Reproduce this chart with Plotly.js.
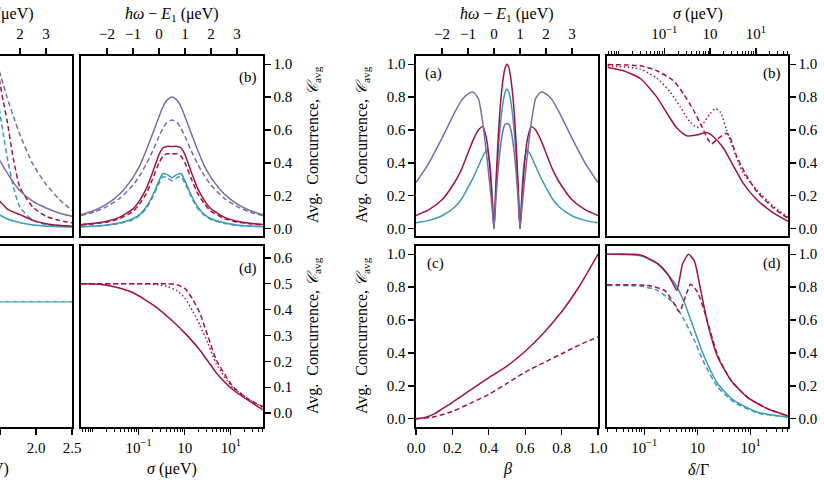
<!DOCTYPE html>
<html><head><meta charset="utf-8">
<script src="https://cdn.plot.ly/plotly-3.0.1.min.js"></script>
<style>html,body{margin:0;padding:0;background:#fff}#plot{width:824px;height:482px}</style>
</head><body><div id="plot"></div>
<script>
// ---------------- DATA ----------------
// Left figure, top-left (cut) panel: x = hbar*omega - E1 (ueV)
const p1X = [1.2, 1.35, 1.5, 1.75, 2.0, 2.5, 3.0, 3.5, 4.0];
const p1PurpleSolid = [0.42, 0.38, 0.34, 0.28, 0.23, 0.165, 0.125, 0.095, 0.075];
const p1PurpleDash  = [0.96, 0.88, 0.80, 0.68, 0.57, 0.39, 0.27, 0.18, 0.11];
const p1RedSolid    = [0.17, 0.145, 0.12, 0.10, 0.085, 0.05, 0.03, 0.02, 0.015];
const p1RedDash     = [0.91, 0.78, 0.66, 0.42, 0.25, 0.13, 0.075, 0.05, 0.035];
const p1BlueSolid   = [0.085, 0.072, 0.06, 0.046, 0.036, 0.022, 0.015, 0.012, 0.01];
const p1BlueDash    = [0.73, 0.58, 0.44, 0.25, 0.13, 0.05, 0.025, 0.015, 0.01];

// Left figure (b): x = hbar*omega - E1 (ueV)
const lbX = [-3, -2.5, -2, -1.5, -1, -0.75, -0.5, -0.25, 0, 0.15, 0.3, 0.5, 0.7, 0.85, 1, 1.25, 1.5, 1.75, 2, 2.5, 3, 3.5, 4];
const lbPurpleSolid = [0.084, 0.110, 0.150, 0.212, 0.312, 0.38, 0.472, 0.575, 0.681, 0.74, 0.78, 0.80, 0.78, 0.74, 0.681, 0.575, 0.472, 0.38, 0.312, 0.212, 0.150, 0.110, 0.084];
const lbPurpleDash  = [0.08, 0.10, 0.135, 0.185, 0.265, 0.32, 0.39, 0.47, 0.56, 0.61, 0.645, 0.66, 0.645, 0.61, 0.56, 0.47, 0.39, 0.32, 0.265, 0.185, 0.135, 0.10, 0.08];
const lbRedSolid    = [0.025, 0.032, 0.045, 0.07, 0.12, 0.17, 0.24, 0.34, 0.45, 0.49, 0.50, 0.50, 0.50, 0.49, 0.45, 0.34, 0.24, 0.17, 0.12, 0.07, 0.045, 0.032, 0.025];
const lbRedDash     = [0.022, 0.03, 0.04, 0.062, 0.105, 0.15, 0.21, 0.30, 0.40, 0.44, 0.455, 0.455, 0.455, 0.44, 0.40, 0.30, 0.21, 0.15, 0.105, 0.062, 0.04, 0.03, 0.022];
const lbBlueSolid   = [0.012, 0.016, 0.022, 0.035, 0.06, 0.085, 0.13, 0.20, 0.29, 0.335, 0.33, 0.31, 0.33, 0.335, 0.29, 0.20, 0.13, 0.085, 0.06, 0.035, 0.022, 0.016, 0.012];
const lbBlueDash    = [0.011, 0.015, 0.02, 0.032, 0.055, 0.08, 0.12, 0.19, 0.275, 0.315, 0.31, 0.29, 0.31, 0.315, 0.275, 0.19, 0.12, 0.08, 0.055, 0.032, 0.02, 0.015, 0.011];

// Left figure, bottom-left (cut) panel
const p3X = [1.4, 2.6];
const p3Blue = [0.43, 0.43];

// Left figure (d): sigma (ueV), log
const ldSolidX = [0.0056, 0.014, 0.03, 0.076, 0.24, 0.56, 1.0, 2.13, 4.9, 11.2, 50];
const ldSolidY = [0.50, 0.498, 0.488, 0.465, 0.41, 0.354, 0.31, 0.244, 0.155, 0.09, 0.012];
const ldDashX  = [0.0056, 0.1, 0.4, 0.66, 1.0, 1.51, 2.13, 3.2, 4.9, 11.2, 25.9, 50];
const ldDashY  = [0.50, 0.50, 0.50, 0.497, 0.483, 0.438, 0.387, 0.296, 0.205, 0.102, 0.05, 0.025];
const ldDotX   = [0.0056, 0.1, 0.24, 0.40, 0.66, 1.0, 1.51, 2.13, 3.2, 4.9, 11.2, 50];
const ldDotY   = [0.50, 0.50, 0.497, 0.49, 0.475, 0.445, 0.393, 0.34, 0.27, 0.19, 0.097, 0.02];

// Right figure (a): x = hbar*omega - E1 (ueV)
const aX = [-3, -2.5, -2, -1.5, -1.25, -1, -0.8, -0.6, -0.43, -0.27, -0.15, -0.07, 0, 0.07, 0.15, 0.25, 0.35, 0.43, 0.5,
            0.57, 0.65, 0.75, 0.85, 0.93, 1, 1.07, 1.15, 1.27, 1.43, 1.6, 1.8, 2, 2.25, 2.5, 3, 3.5, 4];
const aPurple = [0.28, 0.40, 0.55, 0.71, 0.78, 0.82, 0.83, 0.79, 0.64, 0.43, 0.25, 0.12, 0, 0.17, 0.34, 0.50, 0.60, 0.635, 0.64,
                 0.635, 0.60, 0.50, 0.34, 0.17, 0, 0.12, 0.25, 0.43, 0.64, 0.79, 0.83, 0.82, 0.78, 0.71, 0.55, 0.40, 0.28];
const aRed    = [0.08, 0.115, 0.175, 0.285, 0.36, 0.46, 0.54, 0.60, 0.62, 0.53, 0.35, 0.17, 0, 0.26, 0.52, 0.76, 0.91, 0.98, 1.0,
                 0.98, 0.91, 0.76, 0.52, 0.26, 0, 0.17, 0.35, 0.53, 0.62, 0.60, 0.54, 0.46, 0.36, 0.285, 0.175, 0.115, 0.08];
const aBlue   = [0.035, 0.05, 0.078, 0.133, 0.18, 0.25, 0.31, 0.38, 0.44, 0.48, 0.39, 0.21, 0, 0.22, 0.44, 0.64, 0.77, 0.83, 0.85,
                 0.83, 0.77, 0.64, 0.44, 0.22, 0, 0.21, 0.39, 0.48, 0.44, 0.38, 0.31, 0.25, 0.18, 0.133, 0.078, 0.05, 0.035];

// Right figure (b): sigma (ueV), log
const bSolidX = [0.0058, 0.0129, 0.030, 0.069, 0.115, 0.19, 0.31, 0.513, 0.85, 1.17, 1.95, 3.24, 5.25, 10.5, 24, 50];
const bSolidY = [0.98, 0.96, 0.913, 0.80, 0.70, 0.61, 0.564, 0.57, 0.585, 0.56, 0.49, 0.38, 0.277, 0.176, 0.095, 0.044];
const bDashX  = [0.0058, 0.030, 0.069, 0.158, 0.263, 0.436, 0.66, 0.91, 1.07, 1.38, 2.29, 2.69, 3.8, 6.3, 10.5, 24, 50];
const bDashY  = [0.998, 0.99, 0.96, 0.90, 0.82, 0.72, 0.62, 0.54, 0.515, 0.54, 0.58, 0.56, 0.44, 0.32, 0.225, 0.125, 0.063];
const bDotX   = [0.0058, 0.030, 0.069, 0.135, 0.224, 0.363, 0.513, 0.708, 1.0, 1.29, 1.66, 2.29, 3.24, 5.25, 10.5, 24, 50];
const bDotY   = [0.99, 0.97, 0.915, 0.83, 0.74, 0.65, 0.615, 0.64, 0.70, 0.73, 0.71, 0.60, 0.48, 0.34, 0.235, 0.135, 0.07];

// Right figure (c): beta
const cSolidX = [0, 0.05, 0.1, 0.15, 0.2, 0.3, 0.4, 0.5, 0.6, 0.7, 0.8, 0.9, 1.0];
const cSolidY = [0, 0.008, 0.03, 0.065, 0.10, 0.175, 0.25, 0.32, 0.41, 0.52, 0.65, 0.81, 1.0];
const cDashX  = [0, 0.1, 0.2, 0.3, 0.4, 0.5, 0.6, 0.7, 0.8, 0.9, 1.0];
const cDashY  = [0, 0.012, 0.045, 0.095, 0.148, 0.215, 0.284, 0.34, 0.395, 0.45, 0.497];

// Right figure (d): delta / Gamma, log
const dRedSolidX = [0.02, 0.085, 0.178, 0.275, 0.363, 0.41, 0.525, 0.676, 0.871, 1.15, 1.55, 2.4, 4.27, 8.7, 20.9, 52];
const dRedSolidY = [1.0, 0.995, 0.944, 0.88, 0.81, 0.78, 0.94, 1.0, 0.96, 0.78, 0.58, 0.375, 0.233, 0.13, 0.06, 0.016];
const dRedDashX  = [0.02, 0.115, 0.24, 0.363, 0.457, 0.603, 0.741, 1.0, 1.45, 2.4, 4.27, 8.7, 20.9, 52];
const dRedDashY  = [0.815, 0.81, 0.78, 0.70, 0.65, 0.75, 0.817, 0.77, 0.62, 0.385, 0.233, 0.13, 0.06, 0.016];
const dBlueX      = [0.02, 0.085, 0.178, 0.363, 0.562, 0.871, 1.35, 2.4, 4.9, 13.5, 52];
const dBlueSolidY = [1.0, 0.99, 0.94, 0.83, 0.71, 0.54, 0.375, 0.213, 0.11, 0.04, 0.01];
const dBlueDashY  = [0.81, 0.805, 0.78, 0.70, 0.60, 0.477, 0.335, 0.193, 0.10, 0.035, 0.01];

const hwTickVals = [-2, -1, 0, 1, 2, 3];
const logTickVals = [0.1, 1, 10];
const logTickText = ['10<sup>−1</sup>', '10', '10<sup>1</sup>'];

// ---------------- STYLE / LAYOUT ----------------
const W = 824, H = 482;
const RED = '#a3123f', PURPLE = '#7a6aa8', BLUE = '#3d97bf';
const DASH = '5px,3px', DOT = '1.5px,2.5px';
const FONT = {family: 'Liberation Serif, Times New Roman, serif', size: 15, color: '#000'};
const TFONT = {family: 'Liberation Serif, Times New Roman, serif', size: 16, color: '#000'};
const dx = (a, b) => [a / W, b / W];
const dy = (t, b) => [1 - b / H, 1 - t / H];

function tr(x, y, n, color, dash) {
  return {x: x, y: y, xaxis: 'x' + (n === 1 ? '' : n), yaxis: 'y' + (n === 1 ? '' : n),
    type: 'scatter', mode: 'lines', hoverinfo: 'skip', showlegend: false,
    line: {color: color, width: 1.5, dash: dash || 'solid', shape: 'spline', smoothing: 0.6}};
}

const minorVals = [];
for (let e = -3; e <= 2; e++) for (let m = 2; m <= 9; m++) minorVals.push(m * Math.pow(10, e));
minorVals.push(0.01, 100);

function ax(o) {
  return Object.assign({showline: true, mirror: true, linecolor: '#000', linewidth: 1.6,
    ticks: 'outside', ticklen: 6, tickwidth: 1.3, tickcolor: '#000', showgrid: false,
    zeroline: false, tickfont: FONT, fixedrange: true}, o);
}
function logAx(o) {
  return ax(Object.assign({type: 'log', range: [-2.25, 1.70], tickmode: 'array',
    tickvals: logTickVals, ticktext: logTickText,
    minor: {ticks: 'outside', ticklen: 3, tickwidth: 1, tickcolor: '#000', tickmode: 'array', tickvals: minorVals, showgrid: false}}, o));
}

const TOP = [56, 236], BOT = [246, 427];
const ySmall = [-0.045, 1.05];
const yTicks = {tickmode: 'array', tickvals: [0, 0.2, 0.4, 0.6, 0.8, 1.0], tickformat: '.1f'};

const layout = {
  width: W, height: H, margin: {l: 0, r: 0, t: 0, b: 0},
  paper_bgcolor: '#fff', plot_bgcolor: '#fff', font: FONT, showlegend: false,
  xaxis:  ax({domain: dx(0, 72), range: [1.23, 4], side: 'top', anchor: 'y', tickmode: 'array', tickvals: hwTickVals, ticklabelstandoff: 3}),
  yaxis:  ax({domain: dy(TOP[0], TOP[1]), range: ySmall, anchor: 'x', showticklabels: false, ticks: ''}),
  xaxis2: ax({domain: dx(81, 263), range: [-3, 4], side: 'top', anchor: 'y2', tickmode: 'array', tickvals: hwTickVals, ticklabelstandoff: 3}),
  yaxis2: ax(Object.assign({domain: dy(TOP[0], TOP[1]), range: ySmall, side: 'right', anchor: 'x2'}, yTicks)),
  xaxis3: ax({domain: dx(0, 72), range: [1.5, 2.5], side: 'bottom', anchor: 'y3', tickmode: 'array', tickvals: [1.5, 2.0, 2.5], tickformat: '.1f'}),
  yaxis3: ax({domain: dy(BOT[0], BOT[1]), range: [-0.054, 0.646], anchor: 'x3', showticklabels: false, ticks: ''}),
  xaxis4: logAx({domain: dx(81, 263), side: 'bottom', anchor: 'y4'}),
  yaxis4: ax({domain: dy(BOT[0], BOT[1]), range: [-0.054, 0.646], side: 'right', anchor: 'x4', tickmode: 'array', tickvals: [0, 0.1, 0.2, 0.3, 0.4, 0.5, 0.6], tickformat: '.1f'}),
  xaxis5: ax({domain: dx(416, 598), range: [-3, 4], side: 'top', anchor: 'y5', tickmode: 'array', tickvals: hwTickVals, ticklabelstandoff: 3}),
  yaxis5: ax(Object.assign({domain: dy(TOP[0], TOP[1]), range: ySmall, side: 'left', anchor: 'x5'}, yTicks)),
  xaxis6: logAx({domain: dx(607, 788), side: 'top', anchor: 'y6', ticklabelstandoff: 3}),
  yaxis6: ax(Object.assign({domain: dy(TOP[0], TOP[1]), range: ySmall, side: 'right', anchor: 'x6'}, yTicks)),
  xaxis7: ax({domain: dx(416, 598), range: [0, 1], side: 'bottom', anchor: 'y7', tickmode: 'array', tickvals: [0, 0.2, 0.4, 0.6, 0.8, 1.0], tickformat: '.1f'}),
  yaxis7: ax(Object.assign({domain: dy(BOT[0], BOT[1]), range: [-0.05, 1.05], side: 'left', anchor: 'x7'}, yTicks)),
  xaxis8: logAx({domain: dx(607, 788), range: [-1.7, 1.7], side: 'bottom', anchor: 'y8'}),
  yaxis8: ax(Object.assign({domain: dy(BOT[0], BOT[1]), range: [-0.05, 1.05], side: 'right', anchor: 'x8'}, yTicks)),
  shapes: [
    {type: 'line', xref: 'x4', yref: 'y4 domain', x0: 0, x1: 0, y0: 0, y1: 1, line: {color: '#8a8a8a', width: 1.3}, layer: 'below'},
    {type: 'line', xref: 'x6', yref: 'y6 domain', x0: 0, x1: 0, y0: 0, y1: 1, line: {color: '#8a8a8a', width: 1.3}, layer: 'below'}
  ],
  annotations: []
};

function ann(text, x, y, opts) {
  layout.annotations.push(Object.assign({text: text, x: x / W, y: 1 - y / H, xref: 'paper', yref: 'paper',
    showarrow: false, font: TFONT, xanchor: 'center', yanchor: 'middle'}, opts || {}));
}
const HW = '<i>ħω</i> − <i>E</i><sub>1</sub> (μeV)';
const SIG = '<i>σ</i> (μeV)';
const CAVG = 'Avg.  Concurrence, <i>𝒞</i><sub>avg</sub>';
ann(HW, 36, 14, {xanchor: 'right'});
ann(HW, 172, 14);
ann(HW, 507, 14);
ann(SIG, 698, 14);
ann(SIG, 172, 469);
ann('(μeV)', 11, 469, {xanchor: 'right'});
ann('<i>β</i>', 507, 469);
ann('<i>δ</i>/Γ', 698, 469);
ann(CAVG, 313, 145, {textangle: -90});
ann(CAVG, 313, 336, {textangle: -90});
ann(CAVG, 362, 145, {textangle: -90});
ann(CAVG, 362, 336, {textangle: -90});
ann('(b)', 248, 77, {font: FONT});
ann('(d)', 248, 268, {font: FONT});
ann('(a)', 433, 73, {font: FONT});
ann('(b)', 772, 73, {font: FONT});
ann('(c)', 435, 263, {font: FONT});
ann('(d)', 772, 263, {font: FONT});

const data = [
  tr(p1X, p1BlueSolid, 1, BLUE), tr(p1X, p1BlueDash, 1, BLUE, DASH),
  tr(p1X, p1RedSolid, 1, RED), tr(p1X, p1RedDash, 1, RED, DASH),
  tr(p1X, p1PurpleSolid, 1, PURPLE), tr(p1X, p1PurpleDash, 1, PURPLE, DASH),
  tr(lbX, lbBlueSolid, 2, BLUE), tr(lbX, lbBlueDash, 2, BLUE, DASH),
  tr(lbX, lbRedSolid, 2, RED), tr(lbX, lbRedDash, 2, RED, DASH),
  tr(lbX, lbPurpleSolid, 2, PURPLE), tr(lbX, lbPurpleDash, 2, PURPLE, DASH),
  tr(p3X, p3Blue, 3, BLUE), tr(p3X, p3Blue, 3, '#8fc3dc', DASH),
  tr(ldSolidX, ldSolidY, 4, RED), tr(ldDashX, ldDashY, 4, RED, DASH), tr(ldDotX, ldDotY, 4, RED, DOT),
  tr(aX, aBlue, 5, BLUE), tr(aX, aRed, 5, RED), tr(aX, aPurple, 5, PURPLE),
  tr(bSolidX, bSolidY, 6, RED), tr(bDashX, bDashY, 6, RED, DASH), tr(bDotX, bDotY, 6, RED, DOT),
  tr(cSolidX, cSolidY, 7, RED), tr(cDashX, cDashY, 7, RED, DASH),
  tr(dBlueX, dBlueSolidY, 8, BLUE), tr(dBlueX, dBlueDashY, 8, BLUE, DASH),
  tr(dRedSolidX, dRedSolidY, 8, RED), tr(dRedDashX, dRedDashY, 8, RED, DASH)
];

Plotly.newPlot('plot', data, layout, {staticPlot: true, displayModeBar: false});
</script></body></html>
